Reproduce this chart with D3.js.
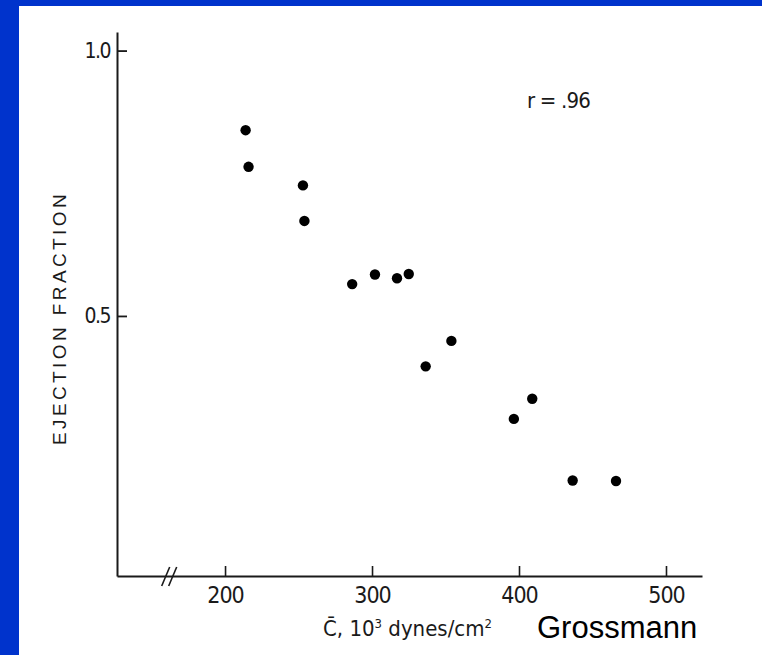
<!DOCTYPE html>
<html>
<head>
<meta charset="utf-8">
<script src="https://cdn.jsdelivr.net/npm/d3@7"></script>
<style>
html,body{margin:0;padding:0;background:#fff;}
svg{display:block;}
</style>
</head>
<body>
<svg id="chart" width="762" height="655"></svg>
<script>
// ---- data ----
const stress = [214, 216, 253, 254, 286.5, 302, 317, 325, 336.5, 354, 396.5, 409, 436.5, 466];
const ejectionFraction = [0.850, 0.781, 0.746, 0.679, 0.560, 0.578, 0.571, 0.579, 0.405, 0.453, 0.306, 0.344, 0.190, 0.189];
const xTicks = [200, 300, 400, 500];
const yTicks = [0.5, 1.0];
const yTickLabels = ["0.5", "1.0"];
const yTitle = "EJECTION FRACTION";
const correlation = "r = .96";
const credit = "Grossmann";

const svg = d3.select("#chart");
const W = 762, H = 655;

// background + blue frame
svg.append("rect").attr("width", W).attr("height", H).attr("fill", "#0033CC");
svg.append("rect").attr("x", 19).attr("y", 6).attr("width", W - 19).attr("height", H - 6).attr("fill", "#fff");

const x = d3.scaleLinear().domain([126.5, 524.5]).range([117, 702]);
const y = d3.scaleLinear().domain([0.01, 1.035]).range([576, 32]);

const ink = "#1a1a1a";
const narrow = "'Liberation Sans Narrow','DejaVu Sans Condensed','Arial Narrow',sans-serif";

// x axis
const xAxis = d3.axisBottom(x).tickValues(xTicks).tickSize(-10).tickSizeOuter(0).tickPadding(20).tickFormat(d3.format("d"));
const gx = svg.append("g").attr("transform", `translate(0,${y.range()[0]})`).call(xAxis);
gx.select(".domain").attr("stroke", ink).attr("stroke-width", 2);
gx.selectAll(".tick line").attr("stroke", ink).attr("stroke-width", 1.6);
gx.selectAll(".tick text").attr("fill", ink).attr("font-family", narrow).attr("font-size", 23)
  .attr("letter-spacing", "-1px").attr("dy", "0.35em").attr("y", 19);

// y axis
const yAxis = d3.axisLeft(y).tickValues(yTicks).tickSize(-10).tickSizeOuter(0).tickPadding(18)
  .tickFormat((d, i) => yTickLabels[i]);
const gy = svg.append("g").attr("transform", `translate(${x.range()[0]},0)`).call(yAxis);
gy.select(".domain").attr("stroke", ink).attr("stroke-width", 2);
gy.selectAll(".tick line").attr("stroke", ink).attr("stroke-width", 1.8);
gy.selectAll(".tick text").attr("fill", ink).attr("font-family", narrow).attr("font-size", 21)
  .attr("letter-spacing", "-1.5px").attr("x", -7);

// axis break marks
const bx = x(162);
[-3.5, 3.5].forEach(off => {
  svg.append("line")
    .attr("x1", bx + off - 4).attr("y1", y.range()[0] + 10)
    .attr("x2", bx + off + 4).attr("y2", y.range()[0] - 9)
    .attr("stroke", ink).attr("stroke-width", 1.6);
});

// points
svg.append("g").selectAll("circle")
  .data(stress.map((s, i) => [s, ejectionFraction[i]]))
  .join("circle")
  .attr("cx", d => x(d[0]))
  .attr("cy", d => y(d[1]))
  .attr("r", 5.2)
  .attr("fill", "#000");

// y title
svg.append("text")
  .attr("transform", `translate(66,318) rotate(-90)`)
  .attr("text-anchor", "middle")
  .attr("font-family", "Arial, 'Liberation Sans', sans-serif")
  .attr("font-size", 19)
  .attr("letter-spacing", "3.4px")
  .attr("fill", ink)
  .text(yTitle);

// x title
const xt = svg.append("text")
  .attr("x", 323).attr("y", 636)
  .attr("font-family", narrow)
  .attr("font-size", 22)
  .attr("fill", ink);
xt.append("tspan").text("C\u0304, 10");
xt.append("tspan").attr("font-size", 13).attr("dy", -8).text("3");
xt.append("tspan").attr("dy", 8).text(" dynes/cm");
xt.append("tspan").attr("font-size", 13).attr("dy", -8).text("2");

// r annotation
svg.append("text")
  .attr("x", 527).attr("y", 108)
  .attr("font-family", narrow)
  .attr("font-size", 22)
  .attr("letter-spacing", "-0.8px")
  .attr("fill", ink)
  .text(correlation);

// credit
svg.append("text")
  .attr("x", 537).attr("y", 638)
  .attr("font-family", "Arial, 'Liberation Sans', sans-serif")
  .attr("font-size", 31)
  .attr("fill", "#000")
  .text(credit);
</script>
</body>
</html>
